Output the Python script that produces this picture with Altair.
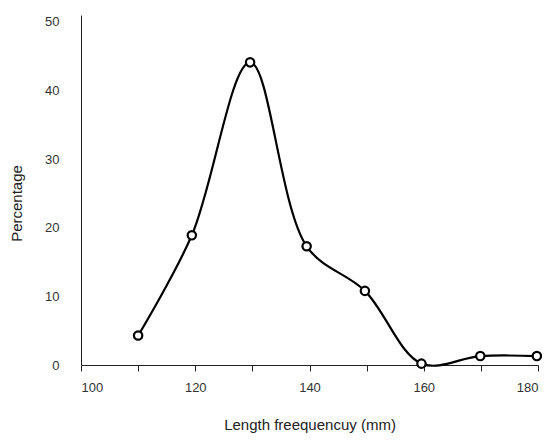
import altair as alt
import pandas as pd

lengths = [110, 119.4, 129.6, 139.5, 149.7, 159.6, 169.9, 179.8]
percent = [4.3, 18.9, 44.1, 17.3, 10.8, 0.2, 1.3, 1.3]

df = pd.DataFrame({"length": lengths, "pct": percent})

FONT = "Liberation Sans"

x = alt.X(
    "length:Q",
    scale=alt.Scale(domain=[100, 180], nice=False, zero=False),
    axis=alt.Axis(
        title="Length freequencuy (mm)",
        values=list(range(100, 181, 10)),
        labelExpr="datum.value % 20 == 0 ? datum.label : ''",
        grid=False,
        tickSize=6,
        tickColor="#222",
        domainColor="#222",
        labelColor="#333",
        labelFontSize=13,
        labelPadding=10,
        labelFont=FONT,
        titleFont=FONT,
        titleFontSize=15,
        titleFontWeight="normal",
        titleColor="#222",
        titleBaseline="top",
        titleY=52,
    ),
)
y = alt.Y(
    "pct:Q",
    scale=alt.Scale(domain=[0, 51], nice=False),
    axis=alt.Axis(
        title="Percentage",
        values=[0, 10, 20, 30, 40, 50],
        grid=False,
        ticks=False,
        domainColor="#222",
        labelColor="#333",
        labelFontSize=13,
        labelPadding=22,
        labelFont=FONT,
        titleFont=FONT,
        titleFontSize=15,
        titleFontWeight="normal",
        titleColor="#222",
        titleX=-57,
        titleY=188,
    ),
)

line = alt.Chart(df).mark_line(
    interpolate="catmull-rom", color="black", strokeWidth=2.2
).encode(x=x, y=y)

pts = alt.Chart(df).mark_point(
    shape="circle", filled=True, fill="white", stroke="black", strokeWidth=2.2, size=70, opacity=1
).encode(x=x, y=y)

chart = (line + pts).properties(
    width=457,
    height=350,
    autosize=alt.AutoSizeParams(type="none"),
    padding={"left": 73, "top": 7, "right": 4, "bottom": 69},
).configure_view(stroke=None)

chart.save("out.html", embed_options={"renderer": "svg", "actions": False})
